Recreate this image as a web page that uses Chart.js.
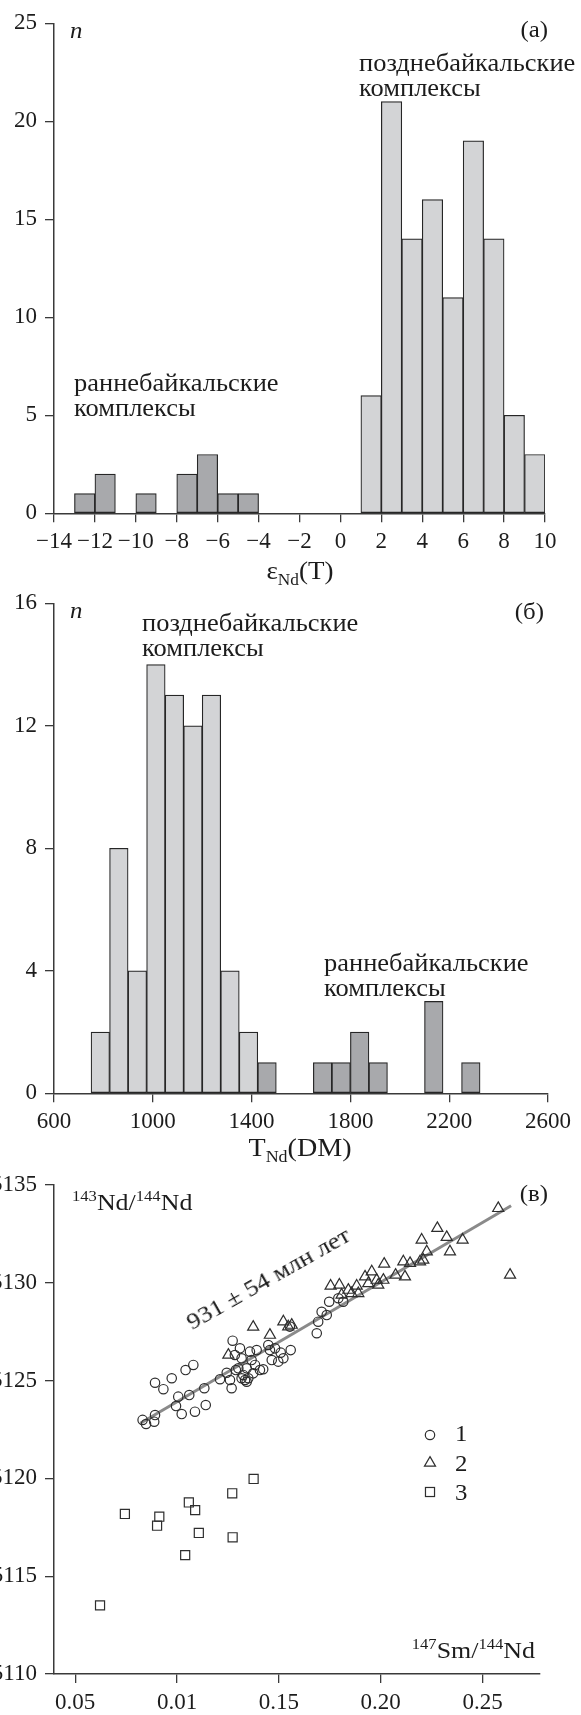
<!DOCTYPE html>
<html lang="ru">
<head>
<meta charset="utf-8">
<title>εNd(T), TNd(DM) и Sm–Nd изохрона</title>
<script src="https://cdn.jsdelivr.net/npm/chart.js@4.4.1/dist/chart.umd.min.js"></script>
<style>
  html, body { margin: 0; padding: 0; background: #fff; }
  #page { position: relative; width: 581px; height: 1715px; overflow: hidden; background: #fff; }
  #page canvas { position: absolute; left: 0; }
  .t { position: absolute; font-family: "Liberation Serif", "Times New Roman", serif; line-height: 1;
       white-space: nowrap; color: #1c1c1c; }
  .t sup, .t sub { font-size: 0.64em; line-height: 0; }
</style>
</head>
<body>
<div id="page">
  <canvas id="cEps" width="581" height="560" style="top:0;width:581px;height:560px"></canvas>
  <canvas id="cTdm" width="581" height="560" style="top:580px;width:581px;height:560px"></canvas>
  <canvas id="cIso" width="581" height="555" style="top:1160px;width:581px;height:555px"></canvas>
</div>
<script>
// (а) εNd(T): bin centres (1 unit bins) and counts
const epsEarlyBins   = [-12.5, -11.5, -9.5, -7.5, -6.5, -5.5, -4.5];
const epsEarlyCounts = [1, 2, 1, 2, 3, 1, 1];
const epsLateBins    = [1.5, 2.5, 3.5, 4.5, 5.5, 6.5, 7.5, 8.5, 9.5];
const epsLateCounts  = [6, 21, 14, 16, 11, 19, 14, 5, 3];
const epsTicksX = [-14, -12, -10, -8, -6, -4, -2, 0, 2, 4, 6, 8, 10];
const epsTicksY = [0, 5, 10, 15, 20, 25];

// (б) TNd(DM): bin centres (75 Ma bins) and counts
const tdmLateBins    = [787.5, 862.5, 937.5, 1012.5, 1087.5, 1162.5, 1237.5, 1312.5, 1387.5];
const tdmLateCounts  = [2, 8, 4, 14, 13, 12, 13, 4, 2];
const tdmEarlyBins   = [1462.5, 1687.5, 1762.5, 1837.5, 1912.5, 2137.5, 2287.5];
const tdmEarlyCounts = [1, 1, 1, 2, 1, 3, 1];
const tdmTicksX = [600, 1000, 1400, 1800, 2200, 2600];
const tdmTicksY = [0, 4, 8, 12, 16];

// (в) 147Sm/144Nd – 143Nd/144Nd, groups 1–3
const g1Sm = [0.0831, 0.0848, 0.0888, 0.0892, 0.0892, 0.0933, 0.0974, 0.0995, 0.1006, 0.1023,
              0.1042, 0.1060, 0.1080, 0.1088, 0.1134, 0.1141, 0.1211, 0.1244, 0.1260, 0.1268,
              0.1273, 0.1284, 0.1301, 0.1309, 0.1317, 0.1325, 0.1334, 0.1342, 0.1350, 0.1358,
              0.1366, 0.1374, 0.1383, 0.1391, 0.1407, 0.1423, 0.1448, 0.1456, 0.1465, 0.1481,
              0.1497, 0.1509, 0.1522, 0.1558, 0.1686, 0.1693, 0.1710, 0.1735, 0.1747, 0.1792,
              0.1816, 0.1554, 0.1317, 0.1342, 0.1289];
const g1Nd = [0.512299, 0.512278, 0.512290, 0.512324, 0.512489, 0.512456, 0.512512, 0.512370, 0.512418, 0.512329,
              0.512554, 0.512426, 0.512580, 0.512341, 0.512461, 0.512375, 0.512507, 0.512540, 0.512503, 0.512461,
              0.512704, 0.512631, 0.512563, 0.512665, 0.512614, 0.512529, 0.512503, 0.512563, 0.512512, 0.512648,
              0.512605, 0.512537, 0.512580, 0.512656, 0.512554, 0.512558, 0.512682, 0.512656, 0.512605, 0.512665,
              0.512597, 0.512643, 0.512614, 0.512656, 0.512742, 0.512801, 0.512852, 0.512835, 0.512903, 0.512921,
              0.512903, 0.512776, 0.512512, 0.512494, 0.512554];
const g2Sm = [0.1252, 0.1374, 0.1456, 0.1522, 0.1546, 0.1563, 0.1754, 0.1797, 0.1808, 0.1841,
              0.1857, 0.1882, 0.1890, 0.1923, 0.1939, 0.1956, 0.1980, 0.1988, 0.2013, 0.2017,
              0.2073, 0.2111, 0.2119, 0.2144, 0.2193, 0.2201, 0.2209, 0.2226, 0.2278, 0.2324,
              0.2340, 0.2402, 0.2577, 0.2635];
const g2Nd = [0.512631, 0.512774, 0.512733, 0.512801, 0.512776, 0.512784, 0.512984, 0.512989, 0.512938, 0.512963,
              0.512946, 0.512984, 0.512946, 0.513031, 0.512997, 0.513057, 0.513014, 0.512989, 0.513014, 0.513096,
              0.513040, 0.513108, 0.513031, 0.513100, 0.513108, 0.513219, 0.513117, 0.513159, 0.513279, 0.513233,
              0.513159, 0.513219, 0.513381, 0.513040];
const g3Sm = [0.0622, 0.0744, 0.0902, 0.0913, 0.1040, 0.1058, 0.1089, 0.1107, 0.1271, 0.1273, 0.1376];
const g3Nd = [0.511351, 0.511818, 0.511758, 0.511804, 0.511608, 0.511877, 0.511838, 0.511721, 0.511924, 0.511699, 0.511997];
// isochron 931 ± 54 Ma: end points
const isoLineSm = [0.082, 0.264];
const isoLineNd = [0.512282, 0.513394];
const isoTicksX = [0.05, 0.10, 0.15, 0.20, 0.25];
const isoTickLabelsX = ['0.05', '0.01', '0.15', '0.20', '0.25'];
const isoTicksY = [0.5110, 0.5115, 0.5120, 0.5125, 0.5130, 0.5135];

const INK = '#1c1c1c', AXIS = '#3a3a3a', EDGE = '#262626';
const LIGHT = '#d3d4d6', DARK = '#a8a9ac';
const Y_AXIS_W = 54;

Chart.defaults.font.family = '"Liberation Serif", "Times New Roman", serif';
Chart.defaults.font.size = 23;
Chart.defaults.color = INK;

const minus = v => (v < 0 ? '\u2212' + Math.abs(v) : String(v));

function axis({ min, max, ticks, labels, fmt, horizontal, size }) {
  return {
    type: 'linear', min, max, offset: false,
    afterBuildTicks: s => { s.ticks = ticks.map(v => ({ value: v })); },
    afterFit: s => {
      if (horizontal) { s.height = size; s.paddingLeft = 0; s.paddingRight = 0; }
      else { s.width = size; s.paddingTop = 0; s.paddingBottom = 0; }
    },
    border: { display: true, color: AXIS, width: 1.5 },
    grid: { display: true, drawOnChartArea: false, drawTicks: true, tickLength: 9,
            color: AXIS, lineWidth: 1.3, offset: false },
    ticks: { padding: horizontal ? 6 : 8, maxRotation: 0, minRotation: 0, autoSkip: false, color: INK,
             callback: (v, i) => (labels ? labels[i] : fmt(v)) }
  };
}

function bars(bins, counts, fill) {
  return {
    data: bins.map((x, i) => ({ x, y: counts[i] })),
    backgroundColor: fill, borderColor: EDGE, borderWidth: 1.2,
    borderSkipped: false, barPercentage: 1, categoryPercentage: 1, grouped: false
  };
}

const common = {
  responsive: false, animation: false, devicePixelRatio: 1,
  plugins: { legend: { display: false }, tooltip: { enabled: false } }
};

// (а)
new Chart(document.getElementById('cEps'), {
  type: 'bar',
  data: { datasets: [bars(epsEarlyBins, epsEarlyCounts, DARK), bars(epsLateBins, epsLateCounts, LIGHT)] },
  options: Object.assign({}, common, {
    layout: { padding: { top: 23.3, left: 0, right: 581 - 545, bottom: 0 } },
    scales: {
      x: axis({ min: -14, max: 10, ticks: epsTicksX, fmt: minus, horizontal: true, size: 560 - 513.3 }),
      y: axis({ min: 0, max: 25, ticks: epsTicksY, fmt: String, horizontal: false, size: Y_AXIS_W })
    }
  })
});

// (б)
new Chart(document.getElementById('cTdm'), {
  type: 'bar',
  data: { datasets: [bars(tdmLateBins, tdmLateCounts, LIGHT), bars(tdmEarlyBins, tdmEarlyCounts, DARK)] },
  options: Object.assign({}, common, {
    layout: { padding: { top: 23.3, left: 0, right: 581 - 548, bottom: 0 } },
    scales: {
      x: axis({ min: 600, max: 2600, ticks: tdmTicksX, fmt: String, horizontal: true, size: 1140 - 1093.3 }),
      y: axis({ min: 0, max: 16, ticks: tdmTicksY, fmt: String, horizontal: false, size: Y_AXIS_W })
    }
  })
});

// legend keys for (в)
const keyPlugin = {
  id: 'keys',
  afterDatasetsDraw(chart) {
    const { ctx, chartArea: a } = chart;
    const x = a.right - 110;
    const rows = [a.top + 250, a.top + 278, a.top + 307];
    ctx.save();
    ctx.strokeStyle = '#2e2e2e';
    ctx.lineWidth = 1.2;
    ctx.beginPath(); ctx.arc(x, rows[0], 4.7, 0, Math.PI * 2); ctx.stroke();
    const r = 6.4;
    ctx.beginPath();
    for (let k = 0; k < 3; k++) {
      const ang = k * 2 * Math.PI / 3;
      const px = x + Math.sin(ang) * r, py = rows[1] - Math.cos(ang) * r;
      k ? ctx.lineTo(px, py) : ctx.moveTo(px, py);
    }
    ctx.closePath(); ctx.stroke();
    const h = r * Math.SQRT1_2;
    ctx.strokeRect(x - h, rows[2] - h, 2 * h, 2 * h);
    ctx.restore();
  }
};

const pts = (xs, ys) => xs.map((x, i) => ({ x, y: ys[i] }));
const marker = (style, radius) => ({
  pointStyle: style, pointRadius: radius, pointBorderWidth: 1.2,
  pointBorderColor: '#2e2e2e', pointBackgroundColor: 'rgba(0,0,0,0)', showLine: false, order: 0
});

// (в)
new Chart(document.getElementById('cIso'), {
  type: 'scatter',
  data: { datasets: [
    Object.assign({ label: '1', data: pts(g1Sm, g1Nd) }, marker('circle', 4.7)),
    Object.assign({ label: '2', data: pts(g2Sm, g2Nd) }, marker('triangle', 6.4)),
    Object.assign({ label: '3', data: pts(g3Sm, g3Nd) }, marker('rect', 6.4)),
    { label: 'isochron', type: 'line', data: pts(isoLineSm, isoLineNd), showLine: true,
      borderColor: '#8a8a8a', borderWidth: 3, pointRadius: 0, order: 5 }
  ] },
  options: Object.assign({}, common, {
    layout: { padding: { top: 25, left: 0, right: 581 - 540, bottom: 0 } },
    scales: {
      x: axis({ min: 0.0396, max: 0.2782, ticks: isoTicksX, labels: isoTickLabelsX, horizontal: true, size: 1715 - 1674 }),
      y: axis({ min: 0.5110, max: 0.5135, ticks: isoTicksY, fmt: v => v.toFixed(4), horizontal: false, size: Y_AXIS_W })
    }
  }),
  plugins: [keyPlugin]
});

// text placed over the charts
const STRETCH = 1.08;
const page = document.getElementById('page');
function label(html, x, baseline, size, align, italic) {
  const d = document.createElement('div');
  d.className = 't';
  d.innerHTML = html;
  d.style.fontSize = size + 'px';
  d.style.left = x + 'px';
  d.style.top = (baseline - 0.8375 * size) + 'px';
  if (italic) d.style.fontStyle = 'italic';
  const shift = align === 'right' ? -100 : align === 'center' ? -50 : 0;
  d.style.transformOrigin = align === 'right' ? '100% 0' : align === 'center' ? '50% 0' : '0 0';
  d.style.transform = 'translateX(' + shift + '%) scaleX(' + STRETCH + ')';
  page.appendChild(d);
  return d;
}

// (а)
label('n', 70, 38, 23, 'left', true);
label('(а)', 548, 37.5, 23, 'right');
label('позднебайкальские', 359, 71.7, 24.5, 'left');
label('комплексы', 359, 96.7, 24.5, 'left');
label('раннебайкальские', 74, 392, 24.5, 'left');
label('комплексы', 74, 417, 24.5, 'left');
label('ε<sub>Nd</sub>(T)', 300, 579, 25, 'center');
// (б)
label('n', 70, 618, 23, 'left', true);
label('(б)', 544, 619, 23, 'right');
label('позднебайкальские', 142, 631.7, 24.5, 'left');
label('комплексы', 142, 656.7, 24.5, 'left');
label('раннебайкальские', 324, 971.7, 24.5, 'left');
label('комплексы', 324, 996.7, 24.5, 'left');
label('T<sub>Nd</sub>(DM)', 300, 1156.5, 26, 'center');
// (в)
label('<sup>143</sup>Nd/<sup>144</sup>Nd', 72, 1210, 24, 'left');
label('(в)', 548, 1201, 23, 'right');
label('1', 455, 1441.7, 23, 'left');
label('2', 455, 1471.7, 23, 'left');
label('3', 455, 1500, 23, 'left');
label('<sup>147</sup>Sm/<sup>144</sup>Nd', 535, 1658.3, 24, 'right');

// age label along the isochron
const age = document.createElement('div');
age.className = 't';
age.textContent = '931 ± 54 млн лет';
age.style.fontSize = '24px';
age.style.left = '268px';
age.style.top = '1278px';
age.style.transformOrigin = '0 0';
age.style.transform = 'rotate(-29.5deg) scaleX(' + STRETCH + ') translate(-50%, -50%)';
page.appendChild(age);
</script>
</body>
</html>
